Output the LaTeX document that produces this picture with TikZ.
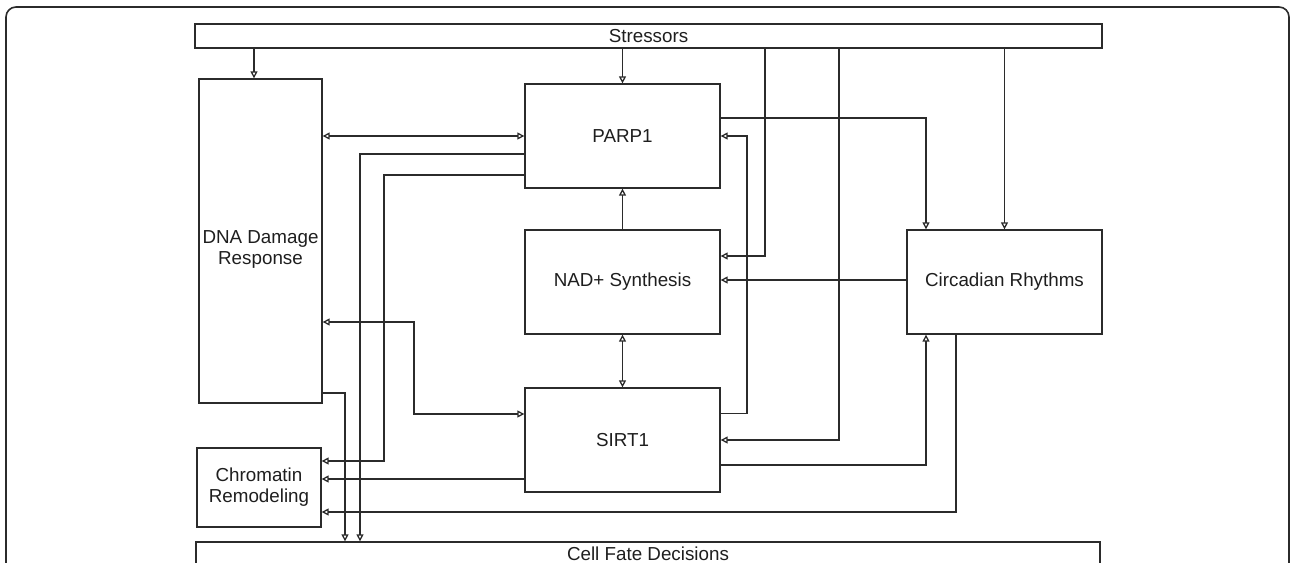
\documentclass[tikz,border=0pt]{standalone}
\usepackage{fontspec}
\setmainfont{Liberation Sans}
\usetikzlibrary{arrows.meta}
\definecolor{lc}{HTML}{2B2B2B}
\definecolor{tc}{HTML}{1E1E1E}
\newcommand{\fsz}{\fontsize{18.8pt}{21pt}\selectfont}
\tikzset{
  boxst/.style={draw=lc, line width=1.3pt, inner sep=0pt, align=center, text=tc, font=\fsz},
  lbl/.style={inner sep=0pt, align=center, text=tc, font=\fsz},
  conn/.style={draw=lc, line width=1.3pt},
  arr/.style={conn, -{Triangle[open, length=7pt, width=7pt]}},
  darr/.style={conn, {Triangle[open, length=7pt, width=7pt]}-{Triangle[open, length=7pt, width=7pt]}},
}
\begin{document}
\begin{tikzpicture}[x=1pt,y=-1pt]
\useasboundingbox (0,0) rectangle (1292,562);
% outer frame
\draw[draw=lc, line width=1.6pt, rounded corners=10pt] (6,7) rectangle (1289,640);

% nodes
\node[boxst, minimum width=907pt, minimum height=24pt] (stress) at (648.5,36) {Stressors};
\node[boxst, minimum width=123pt, minimum height=324pt,
      label={[lbl, yshift=-8.5pt]center:{DNA Damage\\Response}}] (dna) at (260.5,241) {};
\node[boxst, minimum width=195pt, minimum height=104pt] (parp) at (622.5,136) {PARP1};
\node[boxst, minimum width=195pt, minimum height=104pt] (nad) at (622.5,282) {NAD+ Synthesis};
\node[boxst, minimum width=195pt, minimum height=104pt] (sirt) at (622.5,440) {SIRT1};
\node[boxst, minimum width=195pt, minimum height=104pt] (circ) at (1004.5,282) {Circadian Rhythms};
\node[boxst, minimum width=124pt, minimum height=79pt] (chrom) at (259,487.5) {Chromatin\\Remodeling};
\node[boxst, minimum width=904pt, minimum height=24pt] (cell) at (648,554) {Cell Fate Decisions};

% bend coordinates
\coordinate (xA) at (254,0);
\coordinate (b1) at (765,256);
\coordinate (b2) at (839,440);
\coordinate (b3) at (926,118);
\coordinate (b4) at (747,413.5);
\coordinate (b5) at (747,136);
\coordinate (b6) at (360,154);
\coordinate (b7) at (384,175);
\coordinate (b8) at (384,461);
\coordinate (b9) at (414,322);
\coordinate (b10) at (414,414);
\coordinate (b11) at (345,393);
\coordinate (b12) at (0,280);
\coordinate (b13) at (926,465);
\coordinate (b14) at (0,479);
\coordinate (b15) at (956,512);

% connectors from Stressors
\draw[arr] (stress.south -| xA) -- (dna.north -| xA);
\draw[arr] (stress.south -| parp.north) -- (parp.north);
\draw[arr] (stress.south -| b1) -- (b1) -- (nad.east |- b1);
\draw[arr] (stress.south -| b2) -- (b2) -- (sirt.east |- b2);
\draw[arr] (stress.south -| circ.north) -- (circ.north);

% PARP1
\draw[arr] (parp.east |- b3) -- (b3) -- (circ.north -| b3);
\draw[darr] (dna.east |- parp.west) -- (parp.west);
\draw[arr] (parp.west |- b6) -- (b6) -- (cell.north -| b6);
\draw[arr] (parp.west |- b7) -- (b7) -- (b8) -- (chrom.east |- b8);

% NAD+
\draw[arr] (nad.north) -- (parp.south);
\draw[darr] (nad.south) -- (sirt.north);

% SIRT1
\draw[arr] (sirt.east |- b4) -- (b4) -- (b5) -- (parp.east |- b5);
\draw[darr] (dna.east |- b9) -- (b9) -- (b10) -- (sirt.west |- b10);
\draw[arr] (sirt.east |- b13) -- (b13) -- (circ.south -| b13);
\draw[arr] (sirt.west |- b14) -- (chrom.east |- b14);

% DNA damage
\draw[arr] (dna.east |- b11) -- (b11) -- (cell.north -| b11);

% Circadian
\draw[arr] (circ.west |- b12) -- (nad.east |- b12);
\draw[arr] (circ.south -| b15) -- (b15) -- (chrom.east |- b15);
\end{tikzpicture}
\end{document}
